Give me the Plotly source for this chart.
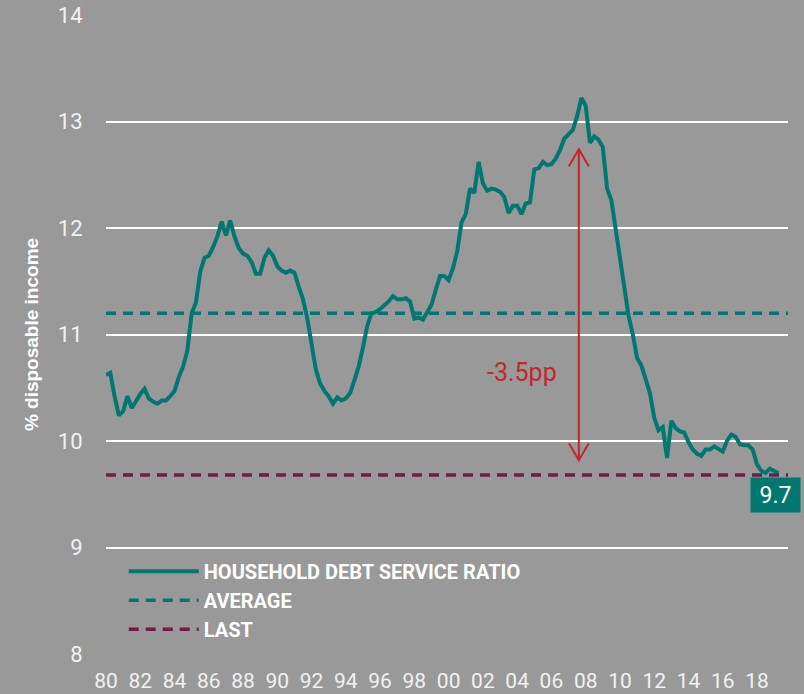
import plotly.graph_objects as go

# Quarterly household debt service ratio (% of disposable income), 1980Q1 - 2019Q2
start_year = 1980
dsr = [
    10.62, 10.64, 10.42, 10.24,   # 1980
    10.28, 10.42, 10.31, 10.38,   # 1981
    10.44, 10.49, 10.40, 10.37,   # 1982
    10.35, 10.38, 10.38, 10.42,   # 1983
    10.47, 10.60, 10.70, 10.85,   # 1984
    11.20, 11.30, 11.59, 11.72,   # 1985
    11.74, 11.82, 11.92, 12.06,   # 1986
    11.93, 12.07, 11.92, 11.81,   # 1987
    11.76, 11.74, 11.68, 11.57,   # 1988
    11.57, 11.72, 11.79, 11.74,   # 1989
    11.64, 11.60, 11.58, 11.60,   # 1990
    11.58, 11.45, 11.33, 11.15,   # 1991
    10.88, 10.67, 10.54, 10.47,   # 1992
    10.42, 10.35, 10.41, 10.38,   # 1993
    10.40, 10.45, 10.57, 10.70,   # 1994
    10.88, 11.08, 11.20, 11.21,   # 1995
    11.24, 11.27, 11.31, 11.36,   # 1996
    11.33, 11.33, 11.34, 11.31,   # 1997
    11.15, 11.16, 11.14, 11.21,   # 1998
    11.28, 11.42, 11.55, 11.55,   # 1999
    11.51, 11.62, 11.78, 12.05,   # 2000
    12.13, 12.37, 12.33, 12.62,   # 2001
    12.42, 12.35, 12.37, 12.36,   # 2002
    12.34, 12.29, 12.14, 12.21,   # 2003
    12.21, 12.13, 12.23, 12.24,   # 2004
    12.55, 12.56, 12.62, 12.59,   # 2005
    12.60, 12.65, 12.73, 12.84,   # 2006
    12.88, 12.92, 13.05, 13.22,   # 2007
    13.15, 12.80, 12.86, 12.83,   # 2008
    12.76, 12.37, 12.26, 11.98,   # 2009
    11.70, 11.40, 11.18, 11.00,   # 2010
    10.78, 10.71, 10.58, 10.45,   # 2011
    10.22, 10.10, 10.13, 9.84,    # 2012
    10.19, 10.12, 10.09, 10.08,   # 2013
    9.99, 9.92, 9.88, 9.86,       # 2014
    9.92, 9.92, 9.95, 9.93,       # 2015
    9.90, 10.00, 10.06, 10.04,    # 2016
    9.97, 9.96, 9.96, 9.92,       # 2017
    9.78, 9.72, 9.70, 9.74,       # 2018
    9.72, 9.70,                   # 2019
]
quarters = [start_year + 0.25 * i for i in range(len(dsr))]

average_value = 11.20
last_value = 9.68
last_label = "9.7"
change_label = "-3.5pp"
change_x = 2007.6
change_top = 12.74
change_bottom = 9.82

tick_years = list(range(1980, 2019, 2))
tick_text = ["80", "82", "84", "86", "88", "90", "92", "94", "96", "98",
             "00", "02", "04", "06", "08", "10", "12", "14", "16", "18"]
y_ticks = [8, 9, 10, 11, 12, 13, 14]

x_range = [1980, 2019.81]
y_range = [8, 14]

TEAL = "#00786f"
MAROON = "#6a1f46"
RED = "#c1272d"
BG = "#999999"

fig = go.Figure()
fig.add_trace(go.Scatter(
    x=quarters, y=dsr, mode="lines", name="<b>HOUSEHOLD DEBT SERVICE RATIO</b>",
    line=dict(color=TEAL, width=4), cliponaxis=False))
fig.add_trace(go.Scatter(
    x=x_range, y=[average_value, average_value], mode="lines", name="<b>AVERAGE</b>",
    line=dict(color=TEAL, width=3.5, dash="10px,7px")))
fig.add_trace(go.Scatter(
    x=x_range, y=[last_value, last_value], mode="lines", name="<b>LAST</b>",
    line=dict(color=MAROON, width=3.5, dash="10px,7px")))

# double-headed arrow
wing_dx = 0.58
wing_dy = 0.16
fig.add_shape(type="line", x0=change_x, x1=change_x, y0=change_bottom, y1=change_top,
              line=dict(color=RED, width=2))
fig.add_shape(type="path",
              path=f"M {change_x - wing_dx} {change_top - wing_dy} L {change_x} {change_top} L {change_x + wing_dx} {change_top - wing_dy}",
              line=dict(color=RED, width=2))
fig.add_shape(type="path",
              path=f"M {change_x - wing_dx} {change_bottom + wing_dy} L {change_x} {change_bottom} L {change_x + wing_dx} {change_bottom + wing_dy}",
              line=dict(color=RED, width=2))

fig.add_annotation(x=2004.3, y=10.64, text=change_label, showarrow=False,
                   font=dict(family="Roboto, sans-serif", size=25, color=RED))
fig.add_annotation(x=2019.08, y=9.49, text=last_label, showarrow=False,
                   bgcolor=TEAL, width=45, height=30, borderpad=2,
                   font=dict(family="Roboto, sans-serif", size=23, color="white"))

fig.update_layout(
    width=804, height=694,
    paper_bgcolor=BG, plot_bgcolor=BG,
    margin=dict(l=106, r=16, t=15, b=40, autoexpand=False),
    showlegend=True,
    legend=dict(x=0.026, y=0.16, xanchor="left", yanchor="top",
                bgcolor="rgba(0,0,0,0)", itemwidth=70, tracegroupgap=0,
                font=dict(family="Roboto, sans-serif", size=20, color="white")),
    xaxis=dict(range=x_range, tickvals=tick_years, ticktext=tick_text, automargin=False,
               showgrid=False, zeroline=False, showline=False,
               ticks="outside", ticklen=8, tickcolor="rgba(0,0,0,0)",
               tickfont=dict(family="Roboto, sans-serif", size=21, color="#f2f2f2")),
    yaxis=dict(range=y_range, tickvals=y_ticks, showgrid=True, gridcolor="white", gridwidth=2,
               zeroline=False, showline=False, automargin=False,
               ticks="outside", ticklen=18, tickcolor="rgba(0,0,0,0)",
               tickfont=dict(family="Roboto, sans-serif", size=22, color="#f2f2f2"),
               title=dict(text="<b>% disposable income</b>", standoff=14,
                          font=dict(family="Liberation Sans, Arial, sans-serif", size=19, color="white"))),
)

fig.write_html("out.html", config={"displayModeBar": False},
               post_script="document.body.style.margin='0px';")
